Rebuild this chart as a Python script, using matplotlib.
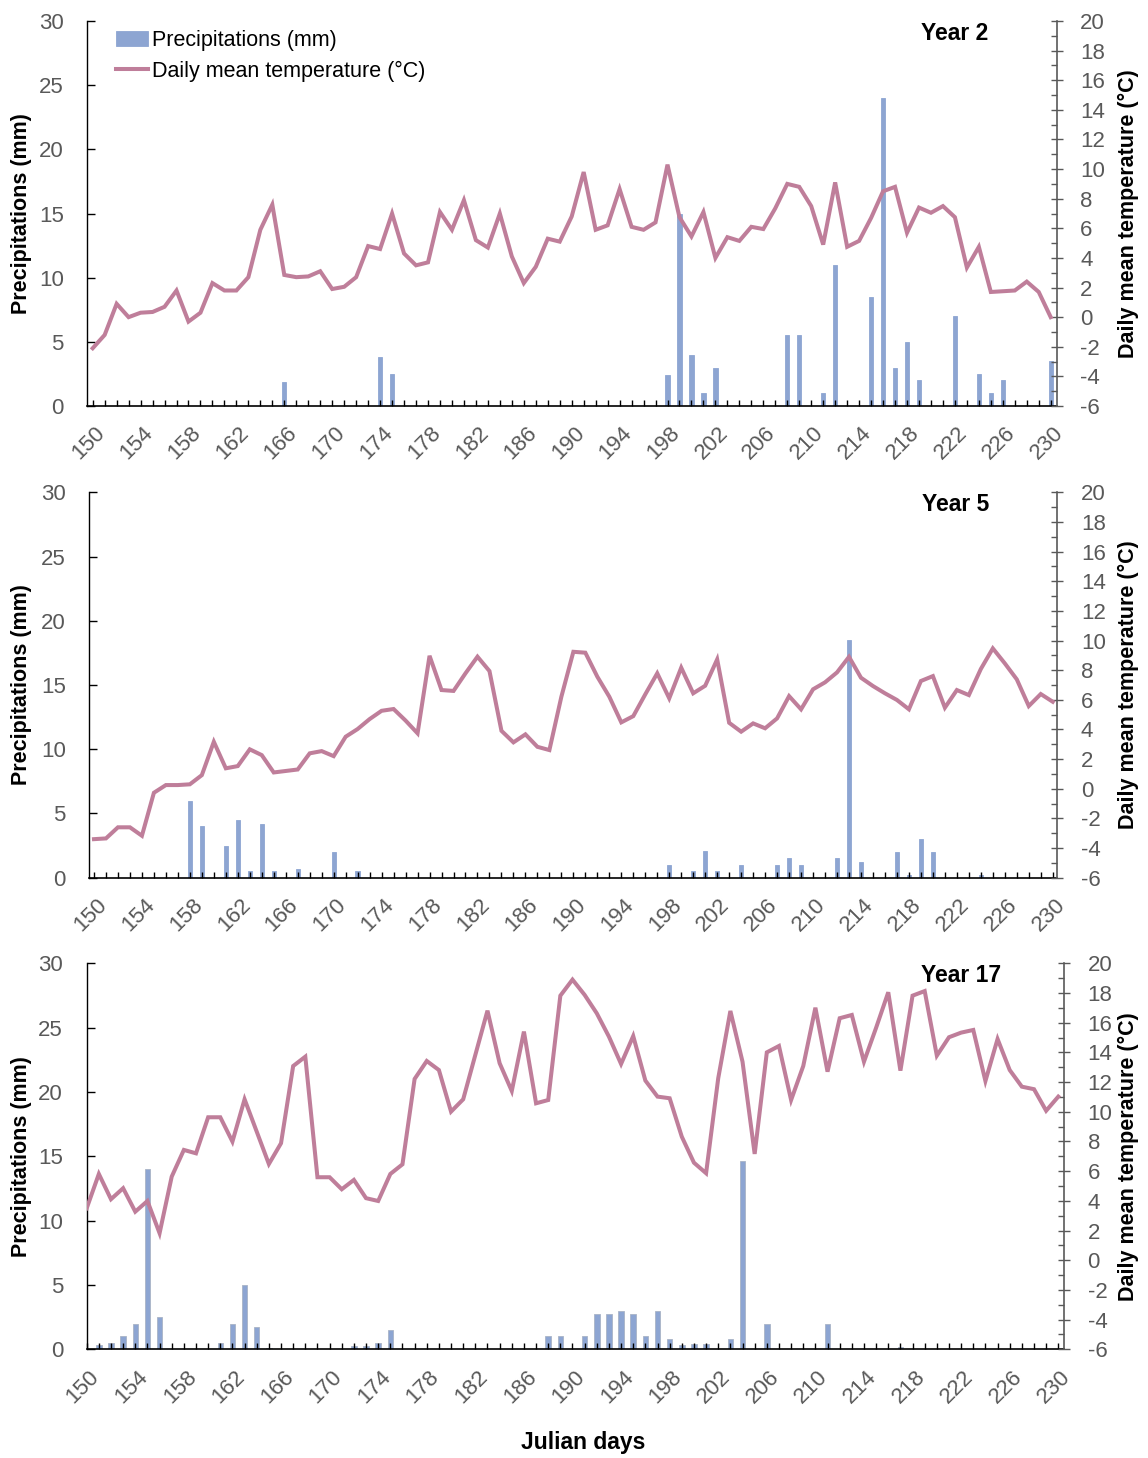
import numpy as np
import matplotlib
matplotlib.use("Agg")
import matplotlib.pyplot as plt
import matplotlib.transforms as mtransforms
from matplotlib import font_manager
from matplotlib.ticker import MultipleLocator, FixedLocator

# Julian days shown on every panel
days = np.arange(150, 231)
day_labels = list(range(150, 231, 4))

# Daily mean temperature (°C), one value per day 150..230
temp_y2 = [-2.1, -1.2, 0.9, 0.0, 0.3, 0.35, 0.7, 1.8, -0.3, 0.3,
           2.3, 1.8, 1.8, 2.7, 5.9, 7.6, 2.85, 2.7, 2.75, 3.1,
           1.9, 2.05, 2.7, 4.8, 4.6, 7.0, 4.3, 3.5, 3.7, 7.1,
           5.9, 7.9, 5.2, 4.7, 7.0, 4.1, 2.3, 3.4, 5.3, 5.1,
           6.8, 9.8, 5.9, 6.2, 8.65, 6.1, 5.9, 6.4, 10.3, 6.75,
           5.45, 7.1, 4.0, 5.4, 5.15, 6.1, 5.95, 7.35, 9.0, 8.8,
           7.5, 4.9, 9.1, 4.75, 5.15, 6.7, 8.5, 8.8, 5.7, 7.4,
           7.05, 7.5, 6.75, 3.35, 4.75, 1.7, 1.75, 1.8, 2.4, 1.7,
           0.0]
temp_y5 = [-3.4, -3.35, -2.6, -2.6, -3.17, -0.27, 0.25, 0.25, 0.3, 0.92,
           3.17, 1.38, 1.53, 2.66, 2.27, 1.1, 1.2, 1.3, 2.39, 2.54,
           2.2, 3.51, 4.03, 4.7, 5.26, 5.38, 4.6, 3.74, 8.97, 6.66,
           6.6, 7.79, 8.91, 7.94, 3.91, 3.13, 3.67, 2.83, 2.61, 6.21,
           9.24, 9.18, 7.56, 6.21, 4.48, 4.9, 6.37, 7.79, 6.1, 8.17,
           6.44, 6.95, 8.73, 4.45, 3.85, 4.41, 4.08, 4.75, 6.25, 5.36,
           6.71, 7.18, 7.85, 8.9, 7.49, 6.93, 6.44, 5.99, 5.36, 7.27,
           7.6, 5.47, 6.66, 6.32, 8.08, 9.47, 8.46, 7.38, 5.58, 6.39,
           5.87]
temp_y17 = [3.5, 5.81, 4.11, 4.85, 3.27, 3.99, 1.82, 5.63, 7.43, 7.2,
            9.63, 9.63, 7.99, 10.84, 8.66, 6.48, 7.88, 13.08, 13.71, 5.59,
            5.59, 4.78, 5.41, 4.18, 3.99, 5.81, 6.46, 12.21, 13.42, 12.81,
            10.01, 10.84, 13.83, 16.81, 13.27, 11.4, 15.4, 10.57, 10.79, 17.82,
            18.9, 17.87, 16.63, 15.06, 13.22, 15.1, 12.1, 11.02, 10.91, 8.32,
            6.57, 5.86, 12.26, 16.79, 13.37, 7.16, 14.0, 14.43, 10.79, 13.08,
            17.01, 12.7, 16.3, 16.52, 13.37, 15.66, 18.05, 12.77, 17.82, 18.13,
            13.78, 15.02, 15.33, 15.51, 12.07, 14.9, 12.81, 11.69, 11.52, 10.07,
            11.02]

# Precipitation (mm): only the rainy days are listed
rain_days_y2 = [166, 174, 175, 198, 199, 200, 201, 202, 208, 209, 211,
                212, 215, 216, 217, 218, 219, 222, 224, 225, 226, 230]
rain_mm_y2 = [1.9, 3.8, 2.5, 2.4, 15.0, 4.0, 1.0, 3.0, 5.5, 5.5, 1.0,
              11.0, 8.5, 24.0, 3.0, 5.0, 2.0, 7.0, 2.5, 1.0, 2.0, 3.5]
rain_days_y5 = [158, 159, 161, 162, 163, 164, 165, 167, 170, 172, 198, 200, 201,
                202, 204, 207, 208, 209, 212, 213, 214, 217, 218, 219, 220, 224]
rain_mm_y5 = [6.0, 4.0, 2.5, 4.5, 0.5, 4.2, 0.5, 0.7, 2.0, 0.5, 1.0, 0.5, 2.1,
              0.5, 1.0, 1.0, 1.5, 1.0, 1.5, 18.5, 1.2, 2.0, 0.2, 3.0, 2.0, 0.2]
rain_days_y17 = [151, 152, 153, 154, 155, 156, 161, 162, 163, 164, 165, 172,
                 173, 174, 175, 188, 189, 191, 192, 193, 194, 195, 196, 197,
                 198, 199, 200, 201, 203, 204, 206, 211, 217]
rain_mm_y17 = [0.3, 0.5, 1.0, 2.0, 14.0, 2.5, 0.5, 2.0, 5.0, 1.75, 0.1, 0.25,
               0.25, 0.5, 1.5, 1.0, 1.0, 1.0, 2.75, 2.75, 3.0, 2.75, 1.0, 3.0,
               0.8, 0.3, 0.4, 0.4, 0.8, 14.6, 2.0, 2.0, 0.2]

years = ["Year 2", "Year 5", "Year 17"]

BAR = "#8da5d2"
LINE = "#bf7e9a"
GREY = "#595959"

installed = {f.name for f in font_manager.fontManager.ttflist}
if "Liberation Sans Narrow" in installed:
    FAM = ["Liberation Sans Narrow", "DejaVu Sans"]
    fs_tick, fs_lab, fs_leg = 18, 17, 18
else:
    FAM = ["Liberation Sans", "DejaVu Sans"]
    fs_tick, fs_lab, fs_leg = 16, 15.5, 15.5
plt.rcParams["font.family"] = FAM
plt.rcParams["axes.unicode_minus"] = False

W, H = 1148, 1458
fig = plt.figure(figsize=(W / 100, H / 100), dpi=100)


def rect(l, r, t, b):
    return [l / W, 1 - b / H, (r - l) / W, (b - t) / H]


layout = [
    (rect(87.3, 1056.7, 21, 406), (149.55, 230.5), 0.36),
    (rect(89.3, 1057.3, 492.3, 877.7), (149.61, 230.38), 0.36),
    (rect(86.7, 1064.0, 963.3, 1349.3), (150.0, 230.47), 0.45),
]
temps = [temp_y2, temp_y5, temp_y17]
rain_days = [rain_days_y2, rain_days_y5, rain_days_y17]
rain_mm = [rain_mm_y2, rain_mm_y5, rain_mm_y17]

shift = mtransforms.ScaledTranslation(2 / 100, 0, fig.dpi_scale_trans)

for i, (pos, xlim, bw) in enumerate(layout):
    ax = fig.add_axes(pos)
    ax2 = ax.twinx()
    ax.set_zorder(ax2.get_zorder() - 1)
    ax.patch.set_visible(False)

    edge = "#a9b4c6" if i == 2 else BAR
    ax.bar(rain_days[i], rain_mm[i], width=bw, color=BAR, edgecolor=edge,
           linewidth=0.6, label="Precipitations (mm)")
    ax2.plot(days, temps[i], color=LINE, lw=2.9, solid_joinstyle="miter",
             label="Daily mean temperature (°C)")

    ax.set_xlim(*xlim)
    ax.set_ylim(0, 30)
    ax2.set_ylim(-6, 20)

    ax.yaxis.set_major_locator(MultipleLocator(5))
    ax.xaxis.set_major_locator(FixedLocator(day_labels))
    ax.xaxis.set_minor_locator(MultipleLocator(1))
    ax2.yaxis.set_major_locator(MultipleLocator(2))
    ax2.yaxis.set_minor_locator(MultipleLocator(1))

    ax.tick_params(axis="y", direction="in", length=5.5, width=1,
                   labelsize=fs_tick, labelcolor=GREY, pad=17)
    ax.tick_params(axis="x", which="both", direction="in", length=4.3, width=1,
                   labelsize=fs_tick, labelcolor=GREY, pad=12)
    for lab in ax.get_xticklabels():
        lab.set_rotation(45)
        lab.set_ha("right")
        lab.set_va("top")
        lab.set_rotation_mode("anchor")
        lab.set_transform(lab.get_transform() + shift)
    ax2.tick_params(axis="y", which="major", direction="inout", length=8,
                    width=1, color=GREY, labelsize=fs_tick, labelcolor=GREY, pad=13)
    ax2.tick_params(axis="y", which="minor", direction="in", length=4.3,
                    width=1, color=GREY)

    for a in (ax, ax2):
        a.spines["top"].set_visible(False)
    ax.spines["left"].set_linewidth(1)
    ax.spines["bottom"].set_linewidth(1.2)
    ax.spines["right"].set_visible(False)
    ax2.spines["left"].set_visible(False)
    ax2.spines["bottom"].set_visible(False)
    ax2.spines["right"].set_color(GREY)
    ax2.spines["right"].set_linewidth(1.2)

    ax2.text(0.895, 0.968, years[i], transform=ax2.transAxes, ha="center",
             va="center", fontsize=fs_lab + 1, fontweight="bold")

    # axis titles
    l, b, w, h = pos
    fig.text(22 / W, b + h / 2, "Precipitations (mm)", rotation=90,
             ha="center", va="center", fontsize=fs_lab, fontweight="bold")
    fig.text(1128 / W, b + h / 2, "Daily mean temperature (°C)", rotation=90,
             ha="center", va="center", fontsize=fs_lab, fontweight="bold")

    if i == 0:
        h1, l1 = ax.get_legend_handles_labels()
        h2, l2 = ax2.get_legend_handles_labels()
        ax2.legend(h1 + h2, l1 + l2, loc="upper left",
                   bbox_to_anchor=(0.0296, 0.977), frameon=False,
                   fontsize=fs_leg, handlelength=1.5, handletextpad=0.15,
                   labelspacing=0.45, borderaxespad=0, borderpad=0)

fig.text(583 / W, 1 - 1443 / H, "Julian days", ha="center", va="center",
         fontsize=fs_lab + 1, fontweight="bold")

fig.savefig("out.png", dpi=100)
